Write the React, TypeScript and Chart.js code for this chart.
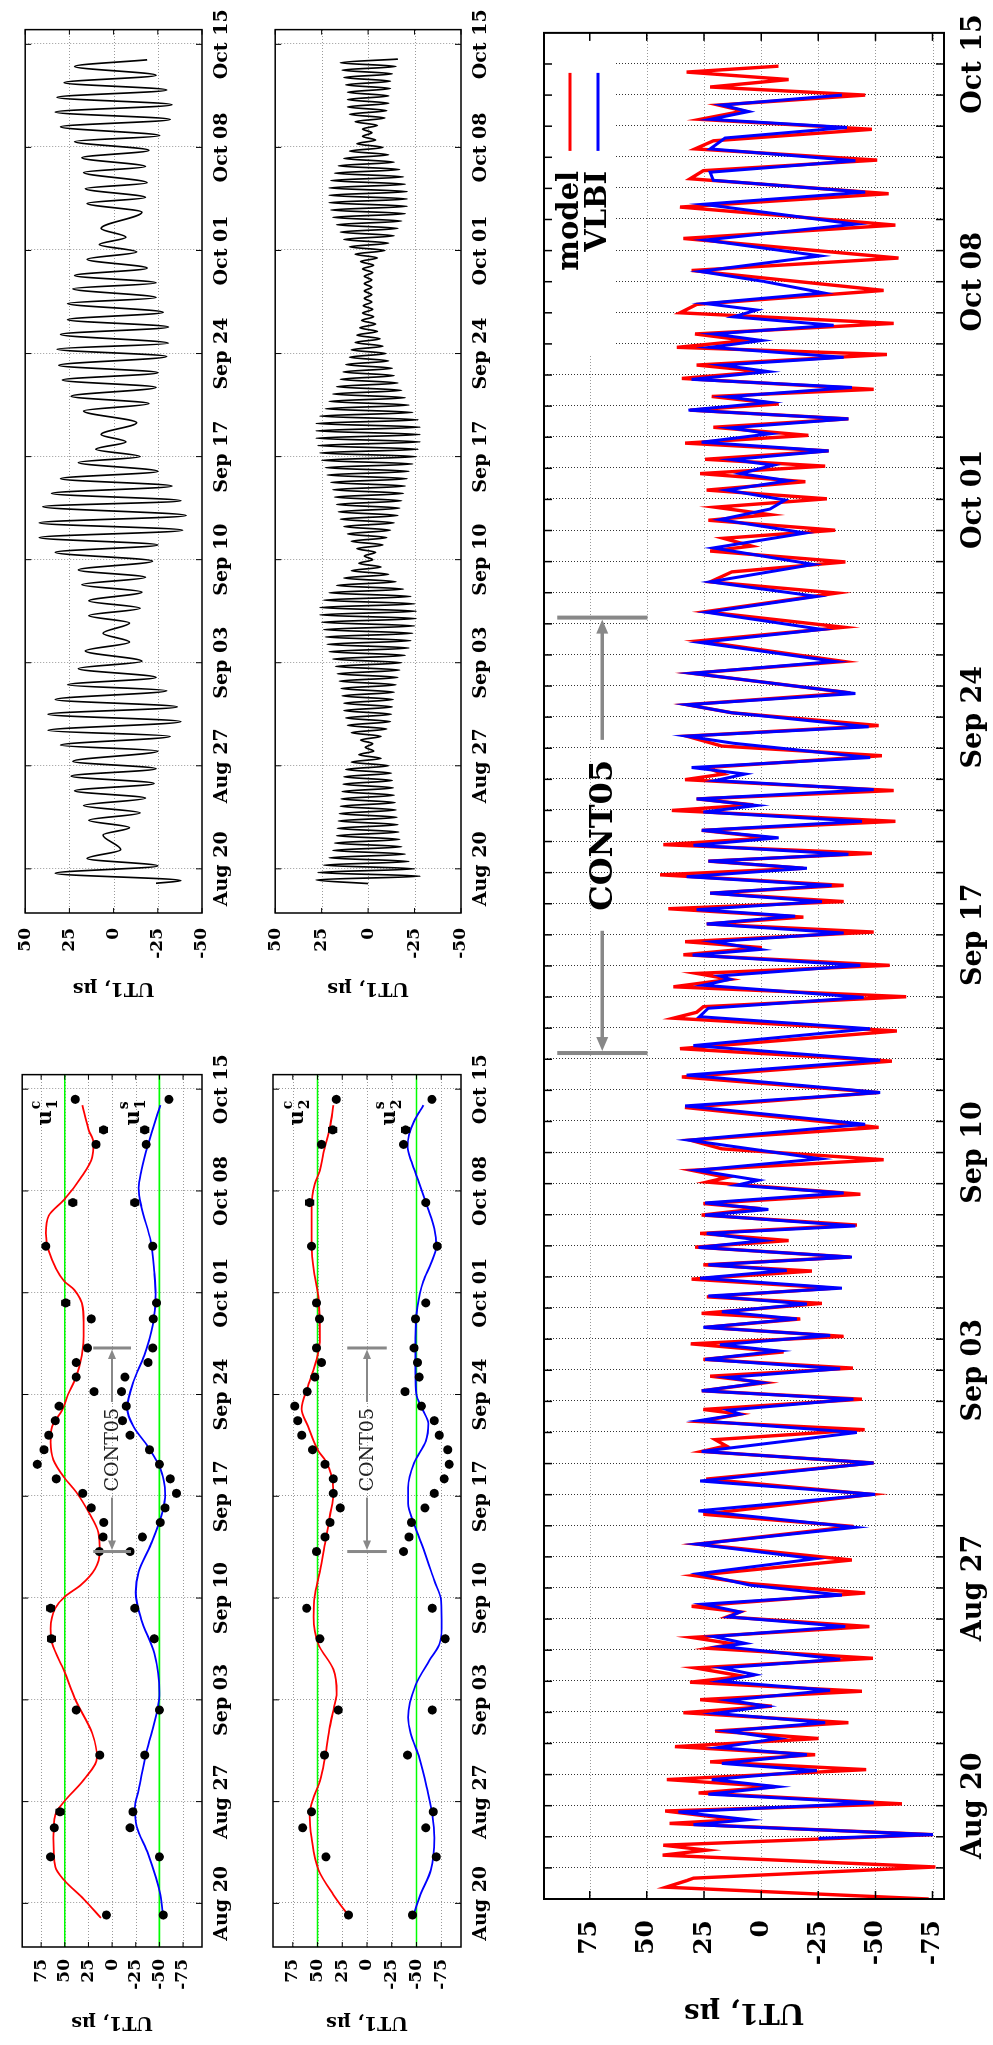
import React, { useEffect, useRef } from "react";
import { Chart, registerables } from "chart.js";

Chart.register(...registerables);

const FONT = "'DejaVu Serif', 'Liberation Serif', serif";

/* ------------------------------ axis data ------------------------------ */
const weekTicks = [0, 7, 14, 21, 28, 35, 42, 49, 56];
const weekLabels = ["Aug 20", "Aug 27", "Sep 03", "Sep 10", "Sep 17", "Sep 24", "Oct 01", "Oct 08", "Oct 15"];
const dayMin = -3;
const dayMax = 57;
const bigTicks = [-75, -50, -25, 0, 25, 50, 75];
const waveTicks = [-50, -25, 0, 25, 50];
const uTicks = [-75, -50, -25, 0, 25, 50, 75];
const greenLevels = [50, -50];
const contStart = 24.2;
const contEnd = 38.2;
const yTitle = "UT1, µs";

/* ------------------------- big panel: model / VLBI ------------------------- */
const modelDays = [
  -3.0, -2.62, -2.41, -2.33, -1.97, -1.59, -1.43, -1.27, -0.93, -0.57,
  -0.45, -0.17, 0.06, 0.41, 0.61, 0.84, 1.16, 1.41, 1.64, 1.9,
  2.16, 2.4, 2.67, 2.99, 3.2, 3.41, 3.68, 3.97, 4.16, 4.43,
  4.74, 5.06, 5.2, 5.41, 5.76, 6.07, 6.23, 6.41, 6.84, 7.14,
  7.4, 7.9, 8.41, 8.98, 9.37, 10.01, 10.5, 11.02, 11.39, 11.57,
  11.77, 12.09, 12.35, 12.59, 12.74, 13.07, 13.34, 13.6, 13.81, 14.07,
  14.35, 14.59, 14.85, 15.09, 15.38, 15.65, 15.83, 16.15, 16.36, 16.64,
  16.93, 17.19, 17.39, 17.64, 17.96, 18.17, 18.4, 18.67, 18.99, 19.2,
  19.36, 19.66, 20.05, 20.2, 20.43, 20.77, 21.12, 21.4, 21.81, 22.45,
  22.93, 23.43, 23.94, 24.34, 24.91, 25.32, 25.51, 25.69, 26.01, 26.33,
  26.57, 26.76, 27.02, 27.36, 27.59, 27.78, 28.09, 28.35, 28.57, 28.84,
  29.07, 29.34, 29.59, 29.93, 30.14, 30.37, 30.62, 30.9, 31.12, 31.36,
  31.65, 32.0, 32.18, 32.37, 32.64, 32.99, 33.17, 33.38, 33.76, 34.07,
  34.39, 34.73, 35.14, 35.4, 35.78, 36.41, 36.79, 37.45, 37.89, 38.39,
  38.99, 39.35, 39.67, 39.99, 40.34, 40.5, 40.75, 41.01, 41.33, 41.51,
  41.75, 42.02, 42.3, 42.57, 42.83, 43.07, 43.29, 43.56, 43.81, 44.06,
  44.32, 44.59, 44.87, 45.07, 45.31, 45.54, 45.89, 46.11, 46.32, 46.66,
  46.89, 47.11, 47.32, 47.66, 48.0, 48.27, 48.72, 49.36, 49.76, 50.39,
  50.82, 51.4, 51.83, 52.31, 52.57, 52.91, 53.27, 53.53, 53.9, 54.22,
  54.49, 54.68, 55.0, 55.26, 55.5, 55.74, 55.93,
];
const modelUT1 = [
  -73.3, 41.6, 32.6, 29.6, -76.2, 43.1, 23.8, 42.8, -75.2, 40.1,
  10.7, 42.0, -61.6, 27.4, -6.1, 41.3, -46.0, 22.3, -23.6, 37.7,
  -25.1, 20.1, -38.2, 34.0, -4.7, 26.7, -44.1, 31.1, 7.7, 28.9,
  -48.9, 23.1, 12, 30.4, -47.4, 15.0, 9.2, 30.4, -45.5, 4.8,
  29.3, -39.7, 28.2, -40.4, 25.3, -48.5, 24, -49.2, 26.0, 15.3,
  20.1, -45.3, 26.7, 9.2, 25.3, -44.1, 26.0, -1.8, 22.3, -40.1,
  25.3, -9.8, 30.8, -36.1, 24.5, -17.1, 26.0, -26.6, 23.8, -31.7,
  30.4, -22.2, 25.3, -39.0, 28.9, -12.0, 26.7, -41.9, 26.0, 0.4,
  25.3, -43.4, 23.8, 15, 30.4, -53.6, 17.2, 31.1, -51.4, 33.3,
  -51.4, 34.7, -57.2, 35.5, -59.4, 38.4, 28.2, 25.3, -63.5, 38.4,
  13.6, 28.2, -56.2, 34.0, -0.3, 33.3, -49.2, 23.8, -18.5, 40.6,
  -36.1, 22.3, -36.1, 44.2, -18.5, 23.1, -48.5, 42.8, -3.9, 26.0,
  -58.7, 39.1, 3.4, 28.2, -58.0, 33.3, 16.5, 23.8, -52.8, 17.2,
  32.6, -51.4, 12.8, 32.6, -39.0, 30.4, -36.1, 27.5, -36.1, 24.5,
  -33.1, 22.3, 12.8, -36.8, 22.3, 4.1, 16.5, -32.4, 23.1, -3.9,
  20.1, -28.8, 23.8, -19.3, 26.7, -28.0, 24.5, -29.5, 33.3, -20.7,
  20.9, -38.2, 31.1, -7.6, 21.6, -49.2, 34.7, -1.0, 28.2, -55.0,
  36.9, 6.3, 28.9, -58.0, 35.5, 28.2, -53.6, 30.4, -60.1, 34.0,
  -58.7, 35.5, -55.8, 31.1, 25.3, -50.7, 28.9, 20.9, -48.5, 26.7,
  7.7, 18.7, -45.5, 22.3, -12.0, 32.6, -7.6,
];
const vlbiDays = [
  -1.05, -0.93, -0.61, -0.45, -0.2, 0.09, 0.37, 0.61, 0.84, 1.13,
  1.36, 1.64, 1.87, 2.16, 2.4, 2.67, 2.97, 3.2, 3.39, 3.71,
  4.0, 4.21, 4.43, 4.71, 5.12, 5.22, 5.44, 5.76, 6.07, 6.23,
  6.48, 6.77, 7.09, 7.46, 7.94, 8.41, 8.95, 9.48, 10.01, 10.44,
  11.02, 11.39, 12.0, 12.38, 12.59, 12.72, 13.07, 13.34, 13.6, 13.77,
  14.05, 14.35, 14.62, 14.82, 15.12, 15.38, 15.65, 15.88, 16.13, 16.39,
  16.64, 16.96, 17.21, 17.39, 17.64, 17.95, 18.17, 18.4, 18.64, 18.99,
  19.17, 19.38, 19.7, 19.95, 20.11, 20.43, 20.8, 21.4, 21.91, 22.5,
  22.93, 23.49, 23.97, 24.44, 24.98, 25.37, 25.64, 25.99, 26.38, 26.57,
  26.68, 27.02, 27.35, 27.53, 27.78, 28.06, 28.35, 28.6, 28.81, 29.07,
  29.34, 29.59, 29.87, 30.14, 30.37, 30.59, 30.88, 31.12, 31.36, 31.65,
  31.95, 32.16, 32.37, 32.67, 32.96, 33.17, 33.38, 33.7, 34.16, 34.39,
  34.69, 35.14, 35.4, 35.76, 36.41, 36.79, 37.4, 37.82, 38.37, 38.88,
  39.35, 39.91, 40.44, 40.92, 41.35, 41.69, 41.98, 42.3, 42.6, 42.83,
  43.1, 43.28, 43.56, 43.84, 44.11, 44.3, 44.59, 44.87, 45.12, 45.3,
  45.6, 45.86, 46.11, 46.32, 46.57, 46.89, 47.11, 47.32, 47.6, 47.87,
  48.09, 48.3, 48.64, 49.01, 49.33, 49.83, 50.34, 50.85, 51.49, 51.88,
  52.26, 52.52, 52.89, 53.27, 53.62, 53.96, 54.22, 54.47, 54.68, 55.0,
];
const vlbiUT1 = [
  -25.1, -75.2, 29.6, 5.5, 36.2, -49.2, 23.1, -7.2, 21.6, -24.4,
  17.2, -20.0, 18.7, -7.6, 15.0, -28.0, 20.1, -2.5, 14.3, -30.2,
  18.0, 2.6, 17.2, -34.6, 17.2, 7.0, 20.9, -36.8, 14.3, 9.2,
  25.3, -35.3, 4.8, 27.4, -23.6, 28.2, -41.2, 27.4, -49.9, 26.7,
  -49.2, 26.0, -41.9, 27.2, 9.2, 14.3, -40.4, 26.0, -0.3, 15.0,
  -34.6, 24.5, -7.6, 18.0, -30.2, 25.3, -15.6, 17.2, -20.0, 23.1,
  -35.3, 26.7, -11.2, 23.1, -39.7, 27.4, -1.0, 23.8, -41.2, 24.5,
  -3.2, 24.5, -36.1, 10.7, 1.2, 28.2, -25.8, 31.8, -45.5, 33.3,
  -52.1, 32.6, -52.1, 29.6, -47.7, 27.0, 23.1, -44.8, 25.3, 13.6,
  18.0, -43.4, 30, 0.4, 20.9, -36.1, 23.8, -14.9, 28.2, -26.6,
  22.3, -30.9, 32.6, -20.0, 23.1, -38.2, 29.6, -7.6, 26.0, -44.1,
  25.3, 1.9, 28.2, -49.2, 20.1, 7.0, 30.4, -47.7, 12.1, 32.6,
  -47.0, 12.8, 32.6, -41.2, 30.4, -32.4, 26.7, -26.6, 23.8, -24.4,
  22.3, -22.9, 20.9, -19.3, 18.0, -3.9, -10.5, 15.0, -12.0, 9.2,
  -5.4, 12.8, -29.5, 26.0, -3.9, 13.6, -38.2, 31.8, -3.9, 15.0,
  -39.7, 30.4, -3.2, 17.2, -36.1, 22.3, -0.3, 20.9, -31.7, 12.1,
  1.9, 24.5, -27.3, -1.0, 26.7, -25.8, 24.5, -41.2, 25.3, -45.5,
  20.9, 22.3, -41.2, 22.3, 15.8, -37.5, 22.3, 5.5, 17.2, -35.3,
];

/* ----------------------- diurnal / semidiurnal waves ----------------------- */
const waveADays = [
  -0.98, -0.8, -0.3, 0.2, 0.7, 1.3, 2.3, 2.8, 3.3, 3.8,
  4.3, 4.8, 5.3, 5.8, 6.3, 6.8, 7.3, 8.0, 8.4, 9.0,
  9.4, 10.0, 10.5, 11.0, 11.5, 12.1, 12.5, 13.0, 13.6, 14.1,
  14.8, 15.4, 16.0, 16.7, 17.2, 17.7, 18.2, 18.8, 19.3, 19.8,
  20.3, 20.9, 21.5, 22.0, 22.5, 23.0, 23.5, 24.0, 24.6, 25.0,
  25.5, 26.0, 26.5, 27.0, 27.6, 28.0, 28.5, 29.0, 29.5, 30.3,
  31.1, 31.6, 32.1, 32.7, 33.2, 33.7, 34.2, 34.8, 35.3, 35.7,
  36.3, 36.8, 37.3, 37.8, 38.4, 38.8, 39.4, 39.8, 40.3, 40.8,
  41.4, 41.9, 42.4, 42.9, 43.5, 44.6, 45.2, 45.6, 46.2, 46.6,
  47.3, 47.7, 48.3, 48.8, 49.4, 49.8, 50.4, 50.9, 51.4, 51.9,
  52.4, 52.9, 53.4, 53.9, 54.5, 54.95,
];
const waveAVals = [
  -24, -38, 33, -25, 15, -4, 6, -9, 14, -15,
  17, -18, 22, -23, 24, -24, 23, -25, 30, -32,
  37, -38, 37, -36, 33, -30, 26, -24, 20, -16,
  16, -9, 6, -9, 14, -15, 14, -16, 18, -18,
  20, -22, 33, -25, 42, -39, 42, -41, 40, -38,
  35, -33, 30, -25, 20, -15, 10, -7, 7, -13,
  17, -20, 24, -24, 29, -25, 31, -30, 32, -31,
  30, -31, 26, -28, 26, -24, 23, -24, 22, -19,
  15, -13, 8, -7, 7, -16, 15, -18, 16, -19,
  17, -18, 18, -20, 22, -26, 30, -32, 33, -33,
  32, -30, 28, -24, 22, -19,
];
const waveBDays = [
  -1, -0.75, -0.5, -0.25, 0, 0.25, 0.5, 0.75, 1, 1.25, 1.5, 1.75, 2, 2.25, 2.5, 2.75, 3, 3.25, 3.5, 3.75,
  4, 4.25, 4.5, 4.75, 5, 5.25, 5.5, 5.75, 6, 6.25, 6.5, 6.75, 7, 7.25, 7.5, 7.75, 8, 8.25, 8.5, 8.75,
  9, 9.25, 9.5, 9.75, 10, 10.25, 10.5, 10.75, 11, 11.25, 11.5, 11.75, 12, 12.25, 12.5, 12.75, 13, 13.25, 13.5, 13.75,
  14, 14.25, 14.5, 14.75, 15, 15.25, 15.5, 15.75, 16, 16.25, 16.5, 16.75, 17, 17.25, 17.5, 17.75, 18, 18.25, 18.5, 18.75,
  19, 19.25, 19.5, 19.75, 20, 20.25, 20.5, 20.75, 21, 21.25, 21.5, 21.75, 22, 22.25, 22.5, 22.75, 23, 23.25, 23.5, 23.75,
  24, 24.25, 24.5, 24.75, 25, 25.25, 25.5, 25.75, 26, 26.25, 26.5, 26.75, 27, 27.25, 27.5, 27.75, 28, 28.25, 28.5, 28.75,
  29, 29.25, 29.5, 29.75, 30, 30.25, 30.5, 30.75, 31, 31.25, 31.5, 31.75, 32, 32.25, 32.5, 32.75, 33, 33.25, 33.5, 33.75,
  34, 34.25, 34.5, 34.75, 35, 35.25, 35.5, 35.75, 36, 36.25, 36.5, 36.75, 37, 37.25, 37.5, 37.75, 38, 38.25, 38.5, 38.75,
  39, 39.25, 39.5, 39.75, 40, 40.25, 40.5, 40.75, 41, 41.25, 41.5, 41.75, 42, 42.25, 42.5, 42.75, 43, 43.25, 43.5, 43.75,
  44, 44.25, 44.5, 44.75, 45, 45.25, 45.5, 45.75, 46, 46.25, 46.5, 46.75, 47, 47.25, 47.5, 47.75, 48, 48.25, 48.5, 48.75,
  49, 49.25, 49.5, 49.75, 50, 50.25, 50.5, 50.75, 51, 51.25, 51.5, 51.75, 52, 52.25, 52.5, 52.75, 53, 53.25, 53.5, 53.75,
  54, 54.25, 54.5, 54.75, 55,
];
const waveBVals = [
  0, 28, -28, 27, -25, 24, -22, 21, -20, 19, -18, 18, -17, 17, -16.5, 16.5, -16, 16, -15.5, 15.5,
  -15, 15, -14.5, 14.5, -14, 14, -13.5, 13.5, -13, 13, -12.5, 12, -11, 9, -7, 5, -3, 1.5, -2.5, 4,
  -7, 9, -10, 11, -12, 12, -12.5, 13, -13, 13, -13.5, 14, -14, 14.5, -15, 15.5, -16, 16.5, -17, 17.5,
  -18, 19, -20, 21, -22, 22, -23, 23, -24, 24, -25, 25, -26, 26, -26, 26, -25, 24, -23, 21,
  -19, 17, -15, 13, -11, 9, -7, 5, -2.5, 2, -4, 6, -8, 9, -10, 11, -12, 13, -14, 15,
  -16, 16, -17, 17, -18, 18, -19, 19, -20, 20, -21, 22, -22, 23, -24, 25, -26, 26, -27, 27,
  -28, 28, -28, 28, -28, 28, -27, 26, -24, 23, -22, 21, -20, 19, -18, 17, -16, 15, -14, 13.5,
  -13, 12, -11, 10, -9.5, 9, -8, 7, -6.5, 6, -5, 4.5, -4, 3.5, -3, 3, -2.5, 2.5, -2, 2,
  -2, 2, -2, 2, -2, 2, -2.5, 3, -3, 4, -5, 7, -9, 10, -11, 13, -14, 15, -16, 17,
  -18, 19, -20, 20, -21, 21, -21, 21, -21, 21, -20, 20, -19, 18, -17, 16, -14, 13, -11, 10,
  -8, 6, -4, 3, -2, 3, -5, 7, -9, 10, -10, 11, -11, 11, -11, 11, -12, 12, -12, 13,
  -13, 14, -15, 15, -16,
];

/* ------------------------- u1 / u2 harmonic terms ------------------------- */
const uc1Days = [-1.0, 0.3, 1.6, 2.5, 4.5, 6.1, 7.0, 8.5, 10.0, 11.7, 13.9, 16.0, 17.9, 18.9, 20.3, 21.1, 21.9, 23.0, 24.2, 25.5, 26.9, 28.3, 29.3, 30.5, 31.7, 32.8, 33.9, 35.0, 36.2, 37.7, 39.5, 41.0, 42.2, 42.8, 44.9, 46.1, 47.3, 48.4, 49.9, 51.3, 52.3, 53.2, 54.9];
const uc1Vals = [11.8, 30, 50.7, 60, 62, 60, 50.7, 30, 16, 21, 38, 50.7, 63.5, 65, 60, 50, 33, 18, 13, 14.5, 24.7, 38, 50.7, 62, 65, 63.5, 53, 46.6, 38, 32, 30, 31, 40, 50.7, 67, 70, 67, 50.7, 33, 21, 19.6, 24.7, 31.4];
const us1Days = [-1.0, 0.6, 3.4, 5.3, 6.6, 7.8, 10.3, 13.4, 14.5, 17.2, 19.5, 21.4, 22.8, 24.7, 26.9, 28.2, 29.9, 31.4, 32.8, 34.0, 35.9, 37.7, 39.8, 41.9, 43.4, 45.5, 47.9, 49.2, 50.4, 52.2, 54.9];
const us1Vals = [-54, -51, -38, -26, -24, -28, -36, -48, -50, -44.6, -31, -25, -28, -41, -53, -56, -51, -38, -22.6, -16, -22.6, -34, -43, -46, -44.6, -41, -31, -28, -31, -38, -51];
const uc2Days = [-1.0, 0.6, 2.3, 4.5, 6.1, 7.3, 8.4, 10.0, 12.2, 13.9, 14.5, 16.1, 17.8, 19.7, 21.1, 22.8, 24.7, 26.7, 28.2, 29.4, 30.5, 31.1, 32.8, 34.0, 35.6, 37.4, 38.9, 41.6, 43.1, 45.2, 47.9, 49.5, 50.4, 51.6, 53.4, 54.9];
const uc2Vals = [17, 34, 49, 56, 58, 54, 47.6, 42.5, 37.4, 32, 30.6, 34, 49, 54, 53, 47.6, 42.5, 37.4, 34, 35.7, 42.5, 49, 59.5, 66, 59.5, 51, 47.6, 49, 52.7, 56, 56, 52.7, 47.6, 44, 37.4, 34];
const us2Days = [-1.0, 0.6, 2.3, 4.5, 6.1, 7.8, 10.0, 11.7, 12.8, 15.0, 16.7, 17.8, 18.9, 20.8, 22.2, 24.2, 26.1, 27.5, 28.6, 30.3, 31.8, 33.0, 34.0, 35.0, 36.5, 38.9, 41.0, 42.8, 44.0, 45.2, 46.4, 47.9, 49.5, 51.0, 52.0, 52.9, 53.8, 54.9];
const us2Vals = [-46, -54, -64.6, -68, -66, -61, -53, -44, -41.5, -49, -63, -73, -75.5, -75, -68, -58, -47.6, -41.5, -41.5, -47.6, -59.5, -62, -56, -50, -49, -49, -51, -57, -64.6, -70, -68, -61, -53, -45, -41, -42.5, -47.6, -57];

const obsDays = [-0.8, 3.2, 5.2, 6.3, 10.2, 13.3, 18.2, 20.3, 24.2, 25.2, 26.2, 27.2, 28.2, 29.2, 30.2, 31.2, 32.2, 33.2, 34.2, 35.2, 36.2, 37.2, 38.2, 40.2, 41.3, 45.2, 48.2, 52.2, 53.2, 55.3];
const uc1Obs = [6, 65, 61, 55, 13, 38, 64, 65, 13.5, 9.5, 8.8, 22, 31, 59, 79, 72, 67, 60, 56, 19, 38, 38, 26, 22, 49, 70, 41.5, 17, 9, 39];
const us1Obs = [-54, -50, -19, -22, -34.5, -50, -44.6, -24, -19, -32, -51, -56, -68, -61.5, -50, -39.5, -19, -11, -15, -10, -13.5, -38, -43, -43.6, -47, -43, -24, -36, -34.5, -60];
const uc2Obs = [18.7, 41.5, 65, 56, 43, 29, 47.6, 61, 51, 42.5, 37.4, 27, 34, 34, 42.5, 55, 66, 70, 73, 60.5, 52.7, 46, 51, 48, 51, 56, 58, 46, 34.7, 31];
const us2Obs = [-46, -70, -59.5, -67, -41, -66, -79, -66, -37, -42.5, -45, -58.5, -68, -78, -83, -81.6, -73, -68, -55, -38.4, -52.7, -51, -47.6, -49, -59.5, -71, -59.5, -37, -39, -65.6];
const uc1Err = [0, 0, 0, 4, 0, 0, 4, 4, 0, 0, 0, 0, 0, 0, 0, 0, 0, 0, 0, 0, 0, 0, 0, 0, 4, 0, 4, 0, 4, 0];
const us1Err = [0, 0, 0, 3, 0, 0, 0, 0, 0, 0, 0, 0, 0, 0, 0, 0, 0, 0, 0, 0, 0, 0, 0, 0, 0, 0, 4, 0, 4, 0];
const uc2Err = [0, 0, 0, 0, 0, 0, 0, 0, 0, 0, 0, 0, 0, 0, 0, 0, 0, 0, 0, 0, 0, 0, 0, 0, 0, 0, 4, 0, 4, 0];
const us2Err = [0, 0, 0, 0, 0, 0, 0, 0, 0, 0, 0, 0, 0, 0, 0, 0, 0, 0, 0, 0, 0, 0, 0, 0, 0, 0, 0, 0, 4, 0];

/* -------------------------------- helpers -------------------------------- */
const pts = (xs: number[], ys: number[]) => xs.map((x, i) => ({ x, y: ys[i] }));
const dailyDays: number[] = [];
for (let d = dayMin + 1; d < dayMax; d++) dailyDays.push(d);

function axisOptions(c: any): any {
  return {
    responsive: false,
    maintainAspectRatio: false,
    animation: false,
    devicePixelRatio: 1,
    events: [],
    layout: { padding: { left: 0, right: c.padRight, top: c.padTop, bottom: 0 } },
    plugins: { legend: { display: false }, tooltip: { enabled: false } },
    scales: {
      x: {
        type: "linear",
        min: dayMin,
        max: dayMax,
        grid: { display: false, drawTicks: false },
        border: { display: false },
        afterBuildTicks: (ax: any) => {
          ax.ticks = weekTicks.map((v) => ({ value: v }));
        },
        afterFit: (ax: any) => {
          ax.height = c.xAxisH;
        },
        ticks: {
          autoSkip: false,
          maxRotation: 0,
          minRotation: 0,
          padding: c.datePad,
          color: "#000",
          font: { family: FONT, size: c.dateSize, weight: "bold" },
          callback: (v: number) => {
            const i = weekTicks.indexOf(v);
            return i >= 0 ? weekLabels[i] : "";
          },
        },
      },
      y: {
        type: "linear",
        min: c.yMin,
        max: c.yMax,
        grid: { display: false, drawTicks: false },
        border: { display: false },
        afterBuildTicks: (ax: any) => {
          ax.ticks = c.yTicks.map((v: number) => ({ value: v }));
        },
        afterFit: (ax: any) => {
          ax.width = c.yAxisW;
        },
        ticks: {
          padding: c.tickPad,
          color: "#000",
          font: { family: FONT, size: c.tickSize, weight: "bold" },
          callback: (v: number) => String(v),
        },
        title: {
          display: true,
          text: yTitle,
          color: "#000",
          font: { family: FONT, size: c.titleSize, weight: "bold" },
          padding: { top: c.titlePad, bottom: 0 },
        },
      },
    },
  };
}

function decoPlugin(d: any) {
  return {
    id: "deco",
    beforeDatasetsDraw(chart: any) {
      const { ctx, chartArea: a, scales } = chart;
      const x = scales.x;
      const y = scales.y;
      ctx.save();
      ctx.lineWidth = 1;
      ctx.setLineDash([1, 2]);
      ctx.strokeStyle = d.xGridColor;
      ctx.beginPath();
      for (const v of d.xGrid) {
        const p = Math.round(x.getPixelForValue(v)) + 0.5;
        ctx.moveTo(p, a.top);
        ctx.lineTo(p, a.bottom);
      }
      ctx.stroke();
      ctx.strokeStyle = d.yGridColor;
      ctx.beginPath();
      for (const v of d.yGrid) {
        const p = Math.round(y.getPixelForValue(v)) + 0.5;
        ctx.moveTo(a.left, p);
        ctx.lineTo(a.right, p);
      }
      ctx.stroke();
      ctx.restore();
      if (d.before) d.before(chart);
    },
    afterDatasetsDraw(chart: any) {
      const { ctx, chartArea: a, scales } = chart;
      const x = scales.x;
      const y = scales.y;
      ctx.save();
      ctx.setLineDash([]);
      ctx.strokeStyle = "#000";
      ctx.lineWidth = d.markW;
      ctx.beginPath();
      for (const v of d.xMarks) {
        const p = x.getPixelForValue(v);
        ctx.moveTo(p, a.top);
        ctx.lineTo(p, a.top + d.xMarkLen);
        ctx.moveTo(p, a.bottom);
        ctx.lineTo(p, a.bottom - d.xMarkLen);
      }
      for (const v of d.yMarks) {
        const p = y.getPixelForValue(v);
        ctx.moveTo(a.left, p);
        ctx.lineTo(a.left + d.yMarkLen, p);
        ctx.moveTo(a.right, p);
        ctx.lineTo(a.right - d.yMarkLen, p);
      }
      ctx.stroke();
      ctx.lineWidth = d.frameW;
      ctx.strokeRect(a.left, a.top, a.right - a.left, a.bottom - a.top);
      ctx.restore();
      if (d.after) d.after(chart);
    },
  };
}

function drawCont(chart: any, o: any) {
  const { ctx, scales } = chart;
  const x = scales.x;
  const y = scales.y;
  const x1 = x.getPixelForValue(contStart);
  const x2 = x.getPixelForValue(contEnd);
  const yc = y.getPixelForValue(o.center);
  const yt = y.getPixelForValue(o.center + o.half);
  const yb = y.getPixelForValue(o.center - o.half);
  ctx.save();
  ctx.setLineDash([]);
  ctx.strokeStyle = "#888";
  ctx.fillStyle = "#888";
  ctx.lineWidth = o.barW;
  ctx.beginPath();
  ctx.moveTo(x1, yt);
  ctx.lineTo(x1, yb);
  ctx.moveTo(x2, yt);
  ctx.lineTo(x2, yb);
  ctx.stroke();
  ctx.font = o.font;
  const tw = ctx.measureText("CONT05").width;
  const xm = (x1 + x2) / 2;
  ctx.lineWidth = o.shaftW;
  ctx.beginPath();
  ctx.moveTo(xm - tw / 2 - o.gap, yc);
  ctx.lineTo(x1 + o.headL, yc);
  ctx.moveTo(xm + tw / 2 + o.gap, yc);
  ctx.lineTo(x2 - o.headL, yc);
  ctx.stroke();
  ctx.beginPath();
  ctx.moveTo(x1 + o.barW / 2, yc);
  ctx.lineTo(x1 + o.headL + 1, yc - o.headW);
  ctx.lineTo(x1 + o.headL + 1, yc + o.headW);
  ctx.closePath();
  ctx.moveTo(x2 - o.barW / 2, yc);
  ctx.lineTo(x2 - o.headL - 1, yc - o.headW);
  ctx.lineTo(x2 - o.headL - 1, yc + o.headW);
  ctx.closePath();
  ctx.fill();
  ctx.fillStyle = o.textColor;
  ctx.textAlign = "center";
  ctx.textBaseline = "middle";
  ctx.fillText("CONT05", xm, yc + o.textDy);
  ctx.restore();
}

function drawErr(chart: any, days: number[], vals: number[], errs: number[]) {
  const { ctx, scales } = chart;
  ctx.save();
  ctx.strokeStyle = "#000";
  ctx.lineWidth = 1.3;
  ctx.beginPath();
  days.forEach((d, i) => {
    if (!errs[i]) return;
    const px = scales.x.getPixelForValue(d);
    const p1 = scales.y.getPixelForValue(vals[i] + errs[i]);
    const p2 = scales.y.getPixelForValue(vals[i] - errs[i]);
    ctx.moveTo(px, p1);
    ctx.lineTo(px, p2);
    ctx.moveTo(px - 3, p1);
    ctx.lineTo(px + 3, p1);
    ctx.moveTo(px - 3, p2);
    ctx.lineTo(px + 3, p2);
  });
  ctx.stroke();
  ctx.restore();
}

function drawU(chart: any, day: number, val: number, sup: string, sub: string) {
  const { ctx, scales } = chart;
  const px = scales.x.getPixelForValue(day);
  const py = scales.y.getPixelForValue(val);
  ctx.save();
  ctx.fillStyle = "#000";
  ctx.textAlign = "left";
  ctx.textBaseline = "alphabetic";
  ctx.font = `bold 21px ${FONT}`;
  ctx.fillText("u", px, py);
  const w = ctx.measureText("u").width;
  ctx.font = `bold 14px ${FONT}`;
  ctx.fillText(sup, px + w + 1, py - 11);
  ctx.fillText(sub, px + w + 1, py + 6);
  ctx.restore();
}

/* ------------------------------ chart configs ------------------------------ */
const smallText = { tickSize: 17, dateSize: 19, titleSize: 19, datePad: 9 };

function makeBig(): any {
  return {
    type: "line",
    data: {
      datasets: [
        { label: "model", data: pts(modelDays, modelUT1), borderColor: "#ff0000", borderWidth: 3.4, pointRadius: 0, tension: 0, order: 1 },
        { label: "VLBI", data: pts(vlbiDays, vlbiUT1), borderColor: "#0000ff", borderWidth: 3, pointRadius: 0, tension: 0, order: 0 },
      ],
    },
    options: axisOptions({
      yMin: -80, yMax: 95, yTicks: bigTicks, yAxisW: 146, xAxisH: 49, padTop: 44, padRight: 17,
      tickSize: 25, dateSize: 27, titleSize: 28, tickPad: 21, datePad: 14, titlePad: 17,
    }),
    plugins: [
      decoPlugin({
        xGrid: dailyDays, xGridColor: "#333", yGrid: bigTicks, yGridColor: "#999",
        xMarks: dailyDays, xMarkLen: 8, yMarks: bigTicks, yMarkLen: 8, markW: 1.5, frameW: 2,
        before: (chart: any) => {
          const { ctx, chartArea: a } = chart;
          ctx.save();
          ctx.fillStyle = "#fff";
          ctx.fillRect(a.right - 323, a.top + 1, 322, 69);
          ctx.restore();
        },
        after: (chart: any) => {
          drawCont(chart, { center: 69.5, half: 19.75, barW: 4, shaftW: 3.5, font: `bold 32px ${FONT}`, headL: 15, headW: 6, gap: 20, textColor: "#000", textDy: 1 });
          const { ctx, chartArea: a } = chart;
          const items = chart.data.datasets;
          ctx.save();
          ctx.font = `bold 29px ${FONT}`;
          ctx.textAlign = "right";
          ctx.textBaseline = "middle";
          items.forEach((ds: any, i: number) => {
            const yy = a.top + 26 + i * 28;
            ctx.fillStyle = "#000";
            ctx.fillText(ds.label, a.right - 138, yy);
            ctx.strokeStyle = ds.borderColor;
            ctx.lineWidth = 3;
            ctx.beginPath();
            ctx.moveTo(a.right - 118, yy);
            ctx.lineTo(a.right - 40, yy);
            ctx.stroke();
          });
          ctx.restore();
        },
      }),
    ],
  };
}

function makeWave(days: number[], vals: number[], padTop: number, xAxisH: number): any {
  return {
    type: "line",
    data: {
      datasets: [
        { data: pts(days, vals), borderColor: "#000", borderWidth: 1.7, pointRadius: 0, cubicInterpolationMode: "monotone" },
      ],
    },
    options: axisOptions({
      yMin: -50, yMax: 50, yTicks: waveTicks, yAxisW: 132, xAxisH, padTop, padRight: 23,
      ...smallText, tickPad: 15, titlePad: 46,
    }),
    plugins: [
      decoPlugin({
        xGrid: weekTicks, xGridColor: "#999", yGrid: [-25, 0, 25], yGridColor: "#999",
        xMarks: weekTicks, xMarkLen: 6, yMarks: waveTicks, yMarkLen: 5, markW: 1, frameW: 1.5,
      }),
    ],
  };
}

function makeU(
  cDays: number[], cVals: number[], sDays: number[], sVals: number[],
  cObs: number[], sObs: number[], cErr: number[], sErr: number[],
  index: string, padTop: number, xAxisH: number,
): any {
  const green = greenLevels.map((g) => ({
    data: [{ x: dayMin, y: g }, { x: dayMax, y: g }],
    borderColor: "#00ff00", borderWidth: 1.6, pointRadius: 0, order: 3,
  }));
  return {
    type: "line",
    data: {
      datasets: [
        ...green,
        { data: pts(cDays, cVals), borderColor: "#ff0000", borderWidth: 1.8, pointRadius: 0, cubicInterpolationMode: "monotone", order: 2 },
        { data: pts(sDays, sVals), borderColor: "#0000ff", borderWidth: 1.8, pointRadius: 0, cubicInterpolationMode: "monotone", order: 2 },
        { data: pts(obsDays, cObs), showLine: false, pointRadius: 4.5, pointBackgroundColor: "#000", pointBorderWidth: 0, order: 1 },
        { data: pts(obsDays, sObs), showLine: false, pointRadius: 4.5, pointBackgroundColor: "#000", pointBorderWidth: 0, order: 1 },
      ],
    },
    options: axisOptions({
      yMin: -95, yMax: 95, yTicks: uTicks, yAxisW: 98, xAxisH, padTop, padRight: 12,
      ...smallText, tickPad: 12, titlePad: 12,
    }),
    plugins: [
      decoPlugin({
        xGrid: weekTicks, xGridColor: "#999", yGrid: uTicks, yGridColor: "#999",
        xMarks: weekTicks, xMarkLen: 6, yMarks: uTicks, yMarkLen: 5, markW: 1, frameW: 1.5,
        after: (chart: any) => {
          drawErr(chart, obsDays, cObs, cErr);
          drawErr(chart, obsDays, sObs, sErr);
          drawCont(chart, { center: 0, half: 20, barW: 3, shaftW: 2, font: `19px ${FONT}`, headL: 10, headW: 4, gap: 6, textColor: "#222", textDy: 1 });
          drawU(chart, 53.5, 65, "c", index);
          drawU(chart, 53.5, -28, "s", index);
        },
      }),
    ],
  };
}

/* ------------------------------- components ------------------------------- */
function Panel({ left, top, width, height, make }: { left: number; top: number; width: number; height: number; make: () => any }) {
  const ref = useRef<HTMLCanvasElement>(null);
  useEffect(() => {
    const chart = new Chart(ref.current as HTMLCanvasElement, make());
    return () => chart.destroy();
  }, []);
  return (
    <canvas
      ref={ref}
      width={width}
      height={height}
      style={{ position: "absolute", left, top, width, height, display: "block" }}
    />
  );
}

export default function App() {
  return (
    <div style={{ position: "absolute", left: 0, top: 0, width: 993, height: 2045, overflow: "hidden", background: "#fff" }}>
      <div
        style={{
          position: "absolute",
          left: 0,
          top: 0,
          width: 2045,
          height: 993,
          transformOrigin: "0 0",
          transform: "translateY(2045px) rotate(-90deg)",
        }}
      >
        <Panel left={0} top={0} width={1000} height={250}
          make={() => makeU(uc1Days, uc1Vals, us1Days, us1Vals, uc1Obs, us1Obs, uc1Err, us1Err, "1", 15, 48)} />
        <Panel left={0} top={250} width={1000} height={250}
          make={() => makeU(uc2Days, uc2Vals, us2Days, us2Vals, uc2Obs, us2Obs, uc2Err, us2Err, "2", 23, 39)} />
        <Panel left={1000} top={0} width={1045} height={250} make={() => makeWave(waveADays, waveAVals, 15, 48)} />
        <Panel left={1000} top={250} width={1045} height={250} make={() => makeWave(waveBDays, waveBVals, 23, 39)} />
        <Panel left={0} top={500} width={2045} height={493} make={makeBig} />
      </div>
    </div>
  );
}
